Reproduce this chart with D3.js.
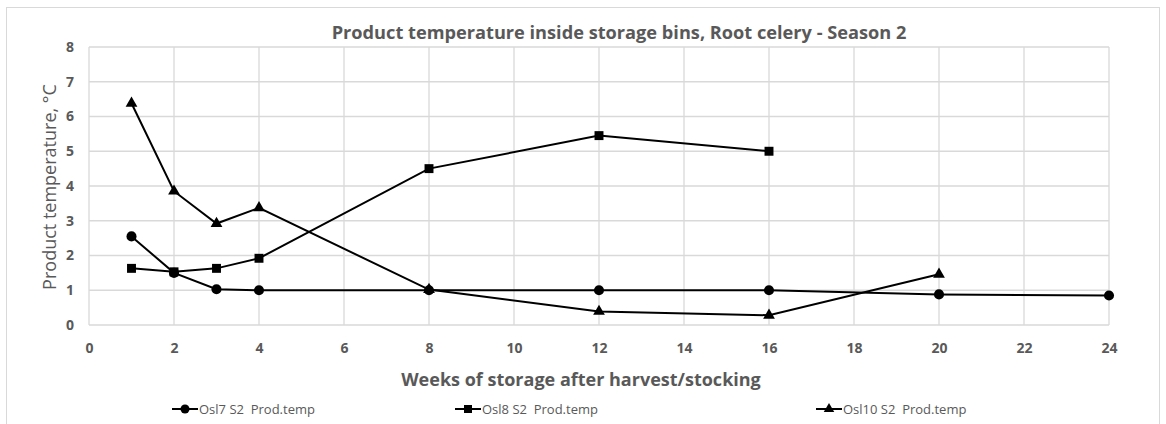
<!DOCTYPE html>
<html>
<head>
<meta charset="utf-8">
<script src="https://cdn.jsdelivr.net/npm/d3@7"></script>
<style>
  body { margin: 0; background: #fff; }
  svg { font-family: "Open Sans", "Liberation Sans", sans-serif; }
</style>
</head>
<body>
<svg id="chart" width="1166" height="424"></svg>
<script>
// weeks after harvest
const weeks = [1, 2, 3, 4, 8, 12, 16, 20, 24];
const osl7 = [2.55, 1.5, 1.03, 1.0, 1.0, 1.0, 1.0, 0.88, 0.85];
const osl8 = [1.63, 1.53, 1.63, 1.92, 4.5, 5.45, 5.0, null, null];
const osl10 = [6.38, 3.85, 2.92, 3.37, 1.02, 0.39, 0.28, 1.46, null];
const seriesNames = ['Osl7 S2  Prod.temp', 'Osl8 S2  Prod.temp', 'Osl10 S2  Prod.temp'];
const xTicks = [0, 2, 4, 6, 8, 10, 12, 14, 16, 18, 20, 22, 24];
const yTicks = [0, 1, 2, 3, 4, 5, 6, 7, 8];

const svg = d3.select('#chart');
const grey = '#595959';
const gridCol = '#d9d9d9';

// outer chart border
svg.append('rect')
  .attr('x', 6.5).attr('y', 7.5).attr('width', 1153).attr('height', 430)
  .attr('fill', 'none').attr('stroke', gridCol);

const x = d3.scaleLinear().domain([0, 24]).range([89, 1109]);
const y = d3.scaleLinear().domain([0, 8]).range([325, 47]);

// gridlines
svg.append('g')
  .selectAll('line')
  .data(xTicks)
  .enter()
  .append('line')
  .attr('x1', d => x(d)).attr('x2', d => x(d))
  .attr('y1', y(0)).attr('y2', y(8))
  .attr('stroke', gridCol).attr('stroke-width', 1.3);

svg.append('g')
  .selectAll('line')
  .data(yTicks)
  .enter()
  .append('line')
  .attr('x1', x(0)).attr('x2', x(24))
  .attr('y1', d => y(d)).attr('y2', d => y(d))
  .attr('stroke', gridCol).attr('stroke-width', 1.3);

// tick labels
const xAxis = svg.append('g')
  .attr('transform', `translate(0,${y(0)})`)
  .call(d3.axisBottom(x).tickValues(xTicks).tickSize(0).tickPadding(18));
xAxis.select('.domain').remove();
xAxis.selectAll('text')
  .attr('fill', grey).attr('font-size', 14).attr('font-weight', 'bold')
  .attr('font-family', '"Open Sans", sans-serif');

const yAxis = svg.append('g')
  .attr('transform', `translate(${x(0)},0)`)
  .call(d3.axisLeft(y).tickValues(yTicks).tickSize(0).tickPadding(15));
yAxis.select('.domain').remove();
yAxis.selectAll('text')
  .attr('fill', grey).attr('font-size', 14).attr('font-weight', 'bold')
  .attr('font-family', '"Open Sans", sans-serif');

// titles
svg.append('text')
  .attr('x', 619).attr('y', 39)
  .attr('text-anchor', 'middle')
  .attr('fill', grey).attr('font-size', 18.2).attr('font-weight', 'bold')
  .text('Product temperature inside storage bins, Root celery - Season 2');

svg.append('text')
  .attr('x', 581).attr('y', 386)
  .attr('text-anchor', 'middle')
  .attr('fill', grey).attr('font-size', 18).attr('font-weight', 'bold')
  .text('Weeks of storage after harvest/stocking');

svg.append('text')
  .attr('transform', 'translate(56,187) rotate(-90)')
  .attr('text-anchor', 'middle')
  .attr('fill', grey).attr('font-size', 18)
  .text('Product temperature, °C');

// series
const series = [
  { name: seriesNames[0], values: osl7, symbol: d3.symbolCircle, size: 80 },
  { name: seriesNames[1], values: osl8, symbol: d3.symbolSquare, size: 80 },
  { name: seriesNames[2], values: osl10, symbol: d3.symbolTriangle, size: 60 }
];

const line = d3.line()
  .defined(d => d.v != null)
  .x(d => x(d.w))
  .y(d => y(d.v));

series.forEach(s => {
  const pts = weeks.map((w, i) => ({ w: w, v: s.values[i] })).filter(d => d.v != null);
  svg.append('path')
    .datum(pts)
    .attr('d', line)
    .attr('fill', 'none')
    .attr('stroke', '#000')
    .attr('stroke-width', 2);
  svg.append('g')
    .selectAll('path')
    .data(pts)
    .enter()
    .append('path')
    .attr('d', d3.symbol().type(s.symbol).size(s.size))
    .attr('transform', d => `translate(${x(d.w)},${y(d.v)})`)
    .attr('fill', '#000');
});

// legend
const legendX = [172, 455, 816];
const legend = svg.append('g')
  .selectAll('g')
  .data(series)
  .enter()
  .append('g')
  .attr('transform', (d, i) => `translate(${legendX[i]},409)`);

legend.append('line')
  .attr('x1', 0).attr('x2', 26)
  .attr('stroke', '#000').attr('stroke-width', 2);
legend.append('path')
  .attr('d', d => d3.symbol().type(d.symbol).size(d.size * 0.8)())
  .attr('transform', 'translate(13,0)')
  .attr('fill', '#000');
legend.append('text')
  .attr('x', 27).attr('y', 5)
  .attr('fill', grey).attr('font-size', 13)
  .attr('xml:space', 'preserve')
  .style('white-space', 'pre')
  .text(d => d.name);
</script>
</body>
</html>
